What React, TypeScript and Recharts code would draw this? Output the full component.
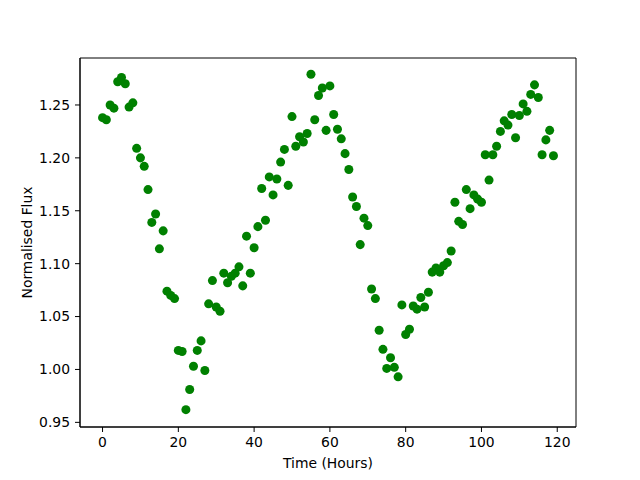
import { ScatterChart, Scatter, XAxis, YAxis, ZAxis, ReferenceArea } from 'recharts';

// one sample per hour
const hours = Array.from({ length: 120 }, (_, i) => i);

const flux = [
  1.238, 1.236, 1.25, 1.247, 1.272, 1.276, 1.27, 1.248, 1.252, 1.209,
  1.2, 1.192, 1.17, 1.139, 1.147, 1.114, 1.131, 1.074, 1.07, 1.067,
  1.018, 1.017, 0.962, 0.981, 1.003, 1.018, 1.027, 0.999, 1.062, 1.084,
  1.059, 1.055, 1.091, 1.082, 1.088, 1.091, 1.097, 1.079, 1.126, 1.091,
  1.115, 1.135, 1.171, 1.141, 1.182, 1.165, 1.18, 1.196, 1.208, 1.174,
  1.239, 1.211, 1.22, 1.215, 1.223, 1.279, 1.236, 1.259, 1.266, 1.226,
  1.268, 1.241, 1.227, 1.218, 1.204, 1.189, 1.163, 1.154, 1.118, 1.143,
  1.136, 1.076, 1.067, 1.037, 1.019, 1.001, 1.011, 1.002, 0.993, 1.061,
  1.033, 1.038, 1.06, 1.057, 1.068, 1.059, 1.073, 1.092, 1.096, 1.092,
  1.098, 1.101, 1.112, 1.158, 1.14, 1.137, 1.17, 1.152, 1.165, 1.161,
  1.158, 1.203, 1.179, 1.203, 1.211, 1.225, 1.235, 1.231, 1.241, 1.219,
  1.24, 1.251, 1.244, 1.26, 1.269, 1.257, 1.203, 1.217, 1.226, 1.202,
];

const xTicks = [0, 20, 40, 60, 80, 100, 120];
const yTicks = [0.95, 1.0, 1.05, 1.1, 1.15, 1.2, 1.25];

const xDomain = [-5.95, 124.95];
const yDomain = [0.9456, 1.2944];

const points = hours.map((h, i) => ({ t: h, f: flux[i] }));

const font = 'DejaVu Sans, sans-serif';
const tickStyle = { fontSize: 13.9, fill: '#000', fontFamily: font };

export default function App() {
  return (
    <div style={{ position: 'absolute', left: 0, top: 0, background: '#fff' }}>
      <ScatterChart width={640} height={480} margin={{ top: 58, right: 64, bottom: 0, left: 0 }}>
        <XAxis
          dataKey="t"
          type="number"
          domain={xDomain}
          ticks={xTicks}
          allowDataOverflow
          height={53}
          stroke="#000"
          tick={tickStyle}
          tickSize={5}
          tickMargin={5}
          label={{ value: 'Time (Hours)', position: 'insideBottom', offset: 12, style: { ...tickStyle } }}
        />
        <YAxis
          dataKey="f"
          type="number"
          domain={yDomain}
          ticks={yTicks}
          allowDataOverflow
          width={80}
          stroke="#000"
          tick={tickStyle}
          tickSize={5}
          tickMargin={5}
          tickFormatter={(v: number) => v.toFixed(2)}
          label={{
            value: 'Normalised Flux',
            angle: -90,
            position: 'insideLeft',
            offset: 27,
            style: { ...tickStyle, textAnchor: 'middle' },
          }}
        />
        <ZAxis type="number" range={[55, 55]} />
        {/* matplotlib-style box around the plot */}
        <ReferenceArea
          x1={xDomain[0]}
          x2={xDomain[1]}
          y1={yDomain[0]}
          y2={yDomain[1]}
          fill="none"
          fillOpacity={0}
          stroke="#000"
          strokeWidth={1}
          ifOverflow="visible"
        />
        <Scatter data={points} fill="#008000" isAnimationActive={false} />
      </ScatterChart>
    </div>
  );
}
